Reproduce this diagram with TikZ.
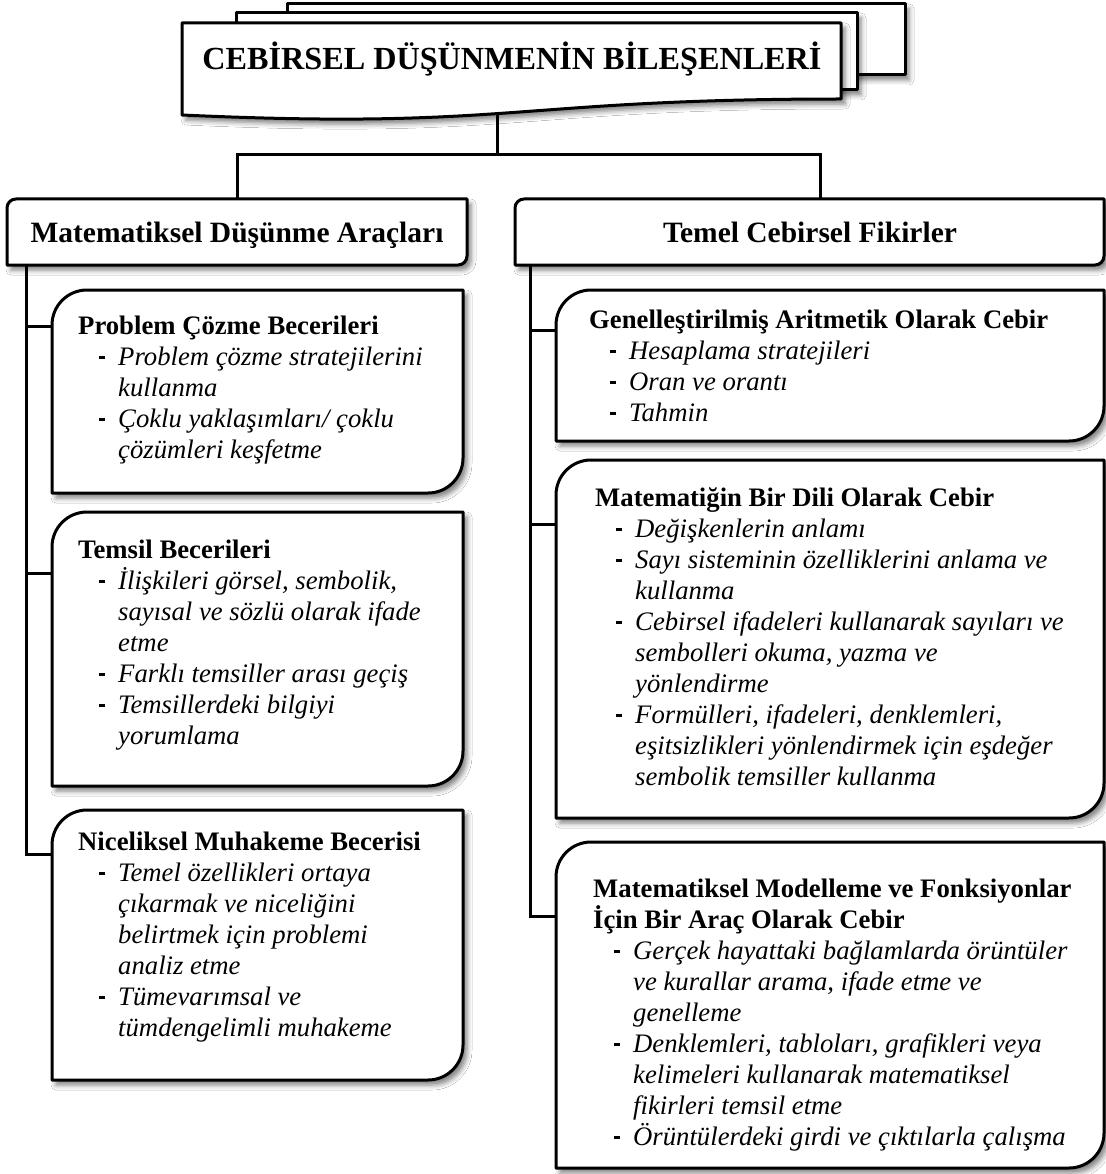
\documentclass[tikz,border=0pt]{standalone}
\usepackage{fontspec}
\setmainfont{Liberation Serif}
\usetikzlibrary{shadows.blur,calc}
\newcommand\ddash{\makebox[19pt][l]{\rule[6.5pt]{6pt}{2.6pt}}}
\newcommand\ditem[1]{\hspace*{21pt}\ddash\textit{#1}}
\newcommand\dcont[1]{\hspace*{40pt}\textit{#1}}
\newcommand\rdframe[2]{%
  \draw[frame] (#1.south west) -- ([yshift=-#2]#1.north west)
    arc[start angle=180,end angle=90,radius=#2] -- (#1.north east)
    -- ([yshift=#2]#1.south east) arc[start angle=0,end angle=-90,radius=#2] -- cycle;}
\begin{document}
\begin{tikzpicture}[x=1pt,y=1pt,
  frame/.style={draw=black, line width=3pt, fill=white, line join=round,
    blur shadow={shadow xshift=4pt, shadow yshift=-5pt, shadow blur radius=5pt, shadow opacity=50}},
  conn/.style={draw=black, line width=3pt},
  area/.style={draw=none, inner sep=0pt, outer sep=0pt, rectangle, anchor=north west},
  boxtext/.style={anchor=north west, inner sep=0pt, align=left, font=\fontsize{26.7}{31}\selectfont},
  headtext/.style={anchor=base, inner sep=0pt, font=\fontsize{29.5}{33}\selectfont\bfseries},
]
\useasboundingbox (0,0) rectangle (1105,-1174);
\fill[white] (0,0) rectangle (1105,-1174);

% title (multidocument)
\draw[frame] (287,-4) rectangle (905,-75);
\draw[frame] (236,-13) rectangle (857,-90);
\draw[frame] (182,-23) -- (841,-23) -- (841,-99) .. controls (511,-99) and (511,-130) .. (182,-115) -- cycle;
\node[anchor=base, inner sep=0pt, font=\fontsize{32.2}{36}\selectfont\bfseries] (title) at (512,-70) {CEBİRSEL DÜŞÜNMENİN BİLEŞENLERİ};

% headers
\node[area, minimum width=460pt, minimum height=66pt] (lh) at (7,-199) {};
\node[area, minimum width=589pt, minimum height=66pt] (rh) at (515,-199) {};
\rdframe{lh}{9pt}
\rdframe{rh}{9pt}
\node[headtext] (lht) at (237,-243) {Matematiksel Düşünme Araçları};
\node[headtext] (rht) at (810,-243) {Temel Cebirsel Fikirler};

% boxes
\node[area, minimum width=411pt, minimum height=203pt] (b1) at (52,-290) {};
\node[area, minimum width=411pt, minimum height=274pt] (b2) at (52,-512) {};
\node[area, minimum width=411pt, minimum height=270pt] (b3) at (52,-810) {};
\node[area, minimum width=548pt, minimum height=151pt] (r1) at (556,-290) {};
\node[area, minimum width=548pt, minimum height=358pt] (r2) at (556,-460) {};
\node[area, minimum width=548pt, minimum height=326pt] (r3) at (556,-842) {};
\rdframe{b1}{35pt}
\rdframe{b2}{35pt}
\rdframe{b3}{35pt}
\rdframe{r1}{35pt}
\rdframe{r2}{35pt}
\rdframe{r3}{35pt}

% connectors
\coordinate (tb) at (497,-112);
\coordinate (j) at (497,-155);
\coordinate (rtop) at (820,-199);
\draw[conn] (tb) -- (j);
\draw[conn] (lh.north) -- (lh.north |- j) -- (rtop |- j) -- (rtop);
\coordinate (lt) at ([xshift=19pt]lh.south west);
\coordinate (rt) at ([xshift=15pt]rh.south west);
\draw[conn] (lt) |- ([yshift=-36pt]b1.north west);
\draw[conn] (lt) |- ([yshift=-61pt]b2.north west);
\draw[conn] (lt) |- ([yshift=-44pt]b3.north west);
\draw[conn] (rt) |- ([yshift=-40pt]r1.north west);
\draw[conn] (rt) |- ([yshift=-64pt]r2.north west);
\draw[conn] (rt) |- ([yshift=-74pt]r3.north west);

% texts
\node[boxtext] (b1t) at (78,-314) {\rule{0pt}{20pt}\textbf{Problem Çözme Becerileri}\\
\ditem{Problem çözme stratejilerini}\\
\dcont{kullanma}\\
\ditem{Çoklu yaklaşımları/ çoklu}\\
\dcont{çözümleri keşfetme}};

\node[boxtext] (b2t) at (78,-538) {\rule{0pt}{20pt}\textbf{Temsil Becerileri}\\
\ditem{İlişkileri görsel, sembolik,}\\
\dcont{sayısal ve sözlü olarak ifade}\\
\dcont{etme}\\
\ditem{Farklı temsiller arası geçiş}\\
\ditem{Temsillerdeki bilgiyi}\\
\dcont{yorumlama}};

\node[boxtext] (b3t) at (78,-830) {\rule{0pt}{20pt}\textbf{Niceliksel Muhakeme Becerisi}\\
\ditem{Temel özellikleri ortaya}\\
\dcont{çıkarmak ve niceliğini}\\
\dcont{belirtmek için problemi}\\
\dcont{analiz etme}\\
\ditem{Tümevarımsal ve}\\
\dcont{tümdengelimli muhakeme}};

\node[boxtext] (r1t) at (589,-308) {\rule{0pt}{20pt}\textbf{Genelleştirilmiş Aritmetik Olarak Cebir}\\
\ditem{Hesaplama stratejileri}\\
\ditem{Oran ve orantı}\\
\ditem{Tahmin}};

\node[boxtext] (r2t) at (595,-486) {\rule{0pt}{20pt}\textbf{Matematiğin Bir Dili Olarak Cebir}\\
\ditem{Değişkenlerin anlamı}\\
\ditem{Sayı sisteminin özelliklerini anlama ve}\\
\dcont{kullanma}\\
\ditem{Cebirsel ifadeleri kullanarak sayıları ve}\\
\dcont{sembolleri okuma, yazma ve}\\
\dcont{yönlendirme}\\
\ditem{Formülleri, ifadeleri, denklemleri,}\\
\dcont{eşitsizlikleri yönlendirmek için eşdeğer}\\
\dcont{sembolik temsiller kullanma}};

\node[boxtext] (r3t) at (593,-877) {\rule{0pt}{20pt}\textbf{Matematiksel Modelleme ve Fonksiyonlar}\\
\textbf{İçin Bir Araç Olarak Cebir}\\
\ditem{Gerçek hayattaki bağlamlarda örüntüler}\\
\dcont{ve kurallar arama, ifade etme ve}\\
\dcont{genelleme}\\
\ditem{Denklemleri, tabloları, grafikleri veya}\\
\dcont{kelimeleri kullanarak matematiksel}\\
\dcont{fikirleri temsil etme}\\
\ditem{Örüntülerdeki girdi ve çıktılarla çalışma}};
\end{tikzpicture}
\end{document}
